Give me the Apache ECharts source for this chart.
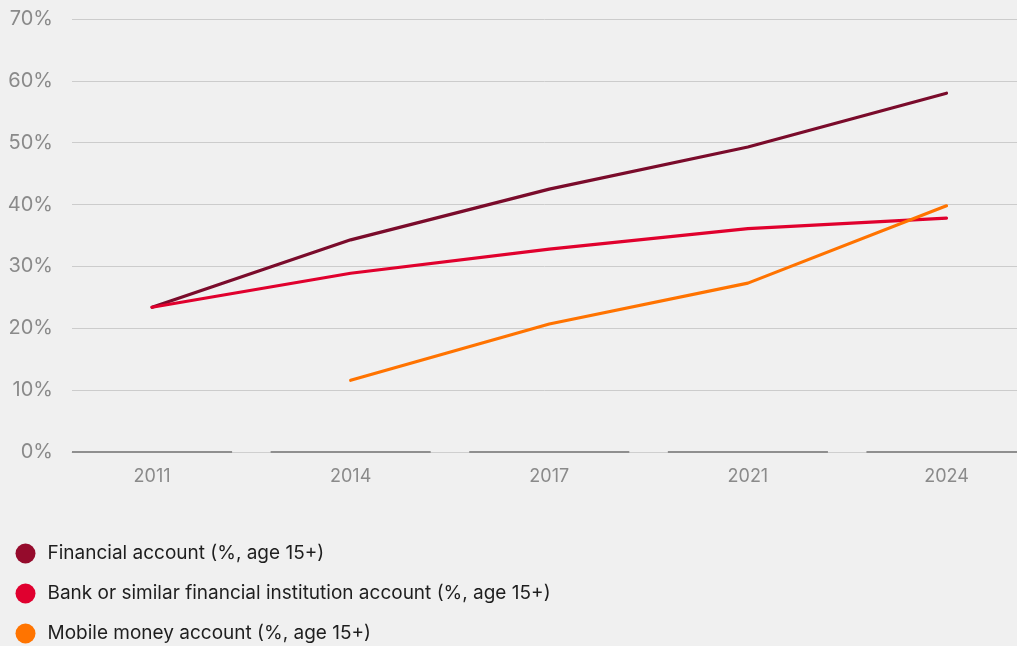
<!DOCTYPE html>
<html>
<head>
<meta charset="utf-8">
<script src="https://cdn.jsdelivr.net/npm/echarts@6/dist/echarts.min.js"></script>
<style>
  html, body { margin: 0; padding: 0; background: #f0f0f0; }
  #chart { width: 1017px; height: 646px; }
</style>
</head>
<body>
<div id="chart"></div>
<script>
// Survey years and account ownership shares (%, age 15+)
const years = ['2011', '2014', '2017', '2021', '2024'];
const financialAccount = [23.4, 34.3, 42.5, 49.3, 58.0];
const bankAccount = [23.4, 28.9, 32.8, 36.1, 37.8];
const mobileMoney = [null, 11.6, 20.7, 27.3, 39.8];
const yTicks = [0, 10, 20, 30, 40, 50, 60, 70];

const seriesNames = [
  'Financial account (%, age 15+)',
  'Bank or similar financial institution account (%, age 15+)',
  'Mobile money account (%, age 15+)'
];
const lineColors = ['#7a0b2b', '#e0002d', '#ff7300'];
const dotColors = ['#950b2c', '#e0002f', '#ff7400'];

// x is a numeric index so each year sits in its own band
const toPoints = arr => arr.map((v, i) => [i, v]);
const HALF_BAND = 0.403;

const lineSeries = (i, values) => ({
  name: seriesNames[i],
  type: 'line',
  data: toPoints(values),
  showSymbol: false,
  itemStyle: { color: dotColors[i] },
  lineStyle: { width: 3.2, color: lineColors[i], cap: 'round' }
});

const chart = echarts.init(document.getElementById('chart'));
chart.setOption({
  backgroundColor: '#f0f0f0',
  animation: false,
  textStyle: { fontFamily: 'Inter, "Noto Sans", sans-serif' },
  grid: { left: 72, right: 0, top: 19, bottom: 194 },
  xAxis: {
    type: 'value',
    min: -HALF_BAND,
    max: years.length - 1 + 0.355,
    splitLine: { show: false },
    axisTick: { show: false },
    axisLine: { show: true, onZero: false, lineStyle: { color: '#cfcfcf', width: 1 } },
    axisLabel: {
      customValues: years.map((_, i) => i),
      formatter: v => years[Math.round(v)],
      color: '#8a8a8a',
      fontSize: 18,
      margin: 16
    }
  },
  yAxis: {
    type: 'value',
    min: yTicks[0],
    max: yTicks[yTicks.length - 1],
    interval: 10,
    axisLine: { show: false },
    axisTick: { show: false },
    splitLine: { lineStyle: { color: '#cccccc', width: 1 } },
    axisLabel: {
      formatter: '{value}%',
      color: '#8a8a8a',
      fontSize: 20,
      margin: 19
    }
  },
  legend: {
    orient: 'vertical',
    left: 15.5,
    top: 543.5,
    padding: 0,
    height: 120,
    icon: 'circle',
    itemWidth: 20,
    itemHeight: 20,
    itemGap: 20,
    data: seriesNames,
    textStyle: { color: '#1e1e1e', fontSize: 19, padding: [0, 0, 0, 7] }
  },
  series: [
    lineSeries(0, financialAccount),
    lineSeries(1, bankAccount),
    lineSeries(2, mobileMoney),
    {
      // darker baseline segment under each year band
      type: 'custom',
      silent: true,
      z: 1,
      data: years.map((_, i) => [i]),
      renderItem: (params, api) => {
        const c = api.value(0);
        const p1 = api.coord([c - HALF_BAND, 0]);
        const p2 = api.coord([c + HALF_BAND, 0]);
        return {
          type: 'line',
          shape: { x1: p1[0], y1: p1[1], x2: p2[0], y2: p2[1] },
          style: { stroke: '#8f8f8f', lineWidth: 2 }
        };
      }
    }
  ]
});
</script>
</body>
</html>
